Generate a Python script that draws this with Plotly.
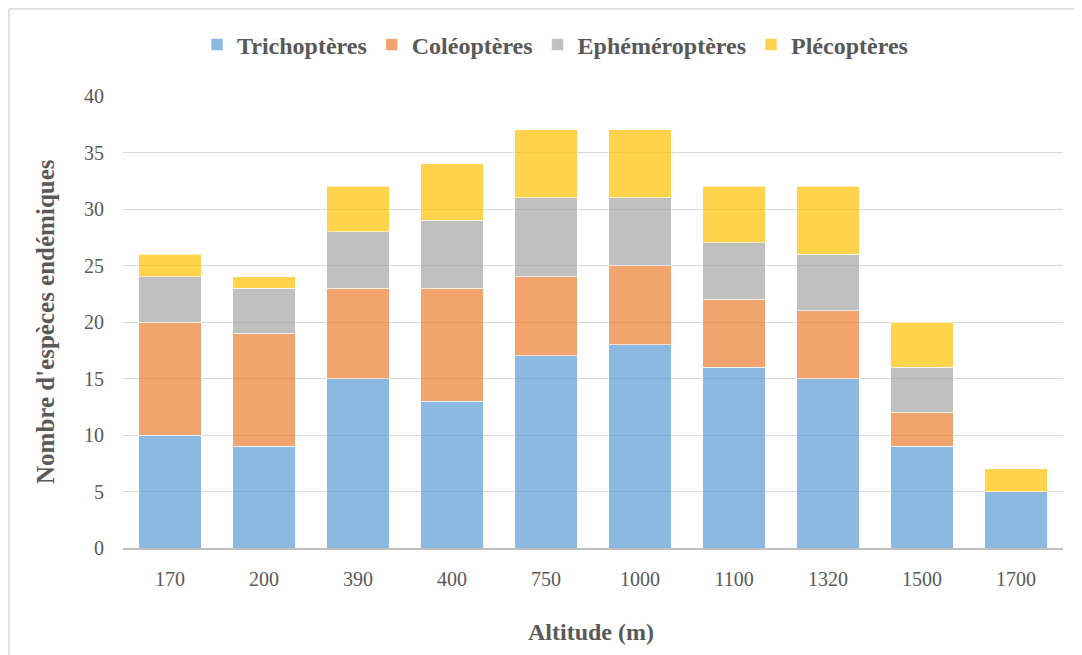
import plotly.graph_objects as go

altitudes = ["170", "200", "390", "400", "750", "1000", "1100", "1320", "1500", "1700"]
trichopteres = [10, 9, 15, 13, 17, 18, 16, 15, 9, 5]
coleopteres = [10, 10, 8, 10, 7, 7, 6, 6, 3, 0]
ephemeropteres = [4, 4, 5, 6, 7, 6, 5, 5, 4, 0]
plecopteres = [2, 1, 4, 5, 6, 6, 5, 6, 4, 2]

series = [
    ("Trichoptères", trichopteres, "rgba(91,155,213,0.7)"),
    ("Coléoptères", coleopteres, "rgba(237,125,49,0.7)"),
    ("Ephéméroptères", ephemeropteres, "rgba(165,165,165,0.7)"),
    ("Plécoptères", plecopteres, "rgba(255,192,0,0.7)"),
]

W, H = 1074, 647
L, R, T, B = 115, 19, 88, 107
pw = W - L - R
ph = H - T - B

fig = go.Figure()
for name, vals, col in series:
    fig.add_trace(go.Bar(
        x=altitudes, y=vals, name=name,
        marker=dict(color=col, line=dict(color="rgba(255,255,255,0.6)", width=1)),
    ))

font_family = "Liberation Serif, Times New Roman, serif"
fig.update_layout(
    barmode="stack",
    bargap=0.33,
    width=W, height=H,
    paper_bgcolor="white", plot_bgcolor="white",
    margin=dict(l=L, r=R, t=T, b=B),
    font=dict(family=font_family, color="#595959", size=20),
    legend=dict(
        orientation="h", x=(547 - L) / pw, xanchor="center", y=1 + 51 / ph, yanchor="middle",
        font=dict(family=font_family, size=24, color="#595959", weight="bold"),
        itemwidth=30, traceorder="normal", tracegroupgap=0,
    ),
    xaxis=dict(
        type="category", showgrid=False, showline=True, linecolor="#BFBFBF", linewidth=1.5,
        ticks="", ticklabelstandoff=12, tickfont=dict(size=20, color="#595959"),
    ),
    yaxis=dict(
        range=[0, 40], dtick=5, showgrid=True, gridcolor="#D9D9D9", gridwidth=1,
        zeroline=False, showline=False, ticks="", ticklabelstandoff=18,
        tickfont=dict(size=20, color="#595959"),
    ),
    annotations=[
        dict(text="<b>Nombre d'espèces endémiques</b>", x=(37 - L) / pw, xref="paper", y=0.5, yref="paper",
             showarrow=False, textangle=-90, font=dict(size=25, color="#595959", family=font_family),
             xanchor="center", yanchor="middle"),
        dict(text="<b>Altitude (m)</b>", x=(583 - L) / pw, xref="paper", y=(ph - (624 - T)) / ph, yref="paper",
             showarrow=False, font=dict(size=24, color="#595959", family=font_family),
             xanchor="center", yanchor="middle"),
    ],
)
# chart border (top and left edges visible)
fig.add_shape(type="line", xref="paper", yref="paper",
              x0=(1 - L) / pw, x1=(W - L) / pw, y0=(ph + T - 1) / ph, y1=(ph + T - 1) / ph,
              line=dict(color="#D9D9D9", width=1.5), layer="below")
fig.add_shape(type="line", xref="paper", yref="paper",
              x0=(1 - L) / pw, x1=(1 - L) / pw, y0=(ph + T - 1) / ph, y1=-B / ph,
              line=dict(color="#D9D9D9", width=1.5), layer="below")

fig.write_html("out.html")
